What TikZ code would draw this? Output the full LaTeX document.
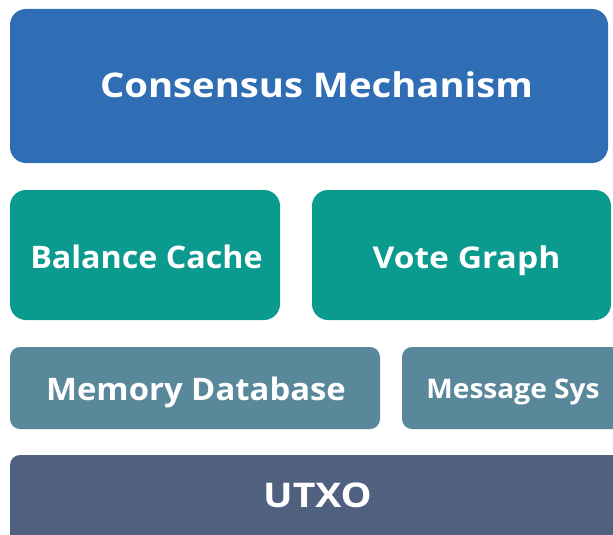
\documentclass[tikz,border=0pt]{standalone}
\usepackage{graphicx}
\usepackage{fontspec}
\setmainfont{Open Sans}
\definecolor{cblue}{HTML}{2F6DB5}
\definecolor{cteal}{HTML}{0A9A8E}
\definecolor{cgray}{HTML}{5A889B}
\definecolor{cslate}{HTML}{50607F}
% white bold label: #1 = font size, #2 = horizontal stretch
\newcommand{\layerlabel}[3]{{\fontsize{#1}{#1}\selectfont\bfseries\scalebox{#2}[1]{#3}}}
\begin{document}
\begin{tikzpicture}[x=1pt,y=-1pt,
  layer/.style={fill=#1, draw=none, rounded corners=16pt},
  lbl/.style={text=white, anchor=base, inner sep=0pt}]
\useasboundingbox (0,0) rectangle (613,535);
\clip (0,0) rectangle (613,535);
% layers of the stack, top to bottom
\fill[layer=cblue]  (10,9)    rectangle (608,163);
\fill[layer=cteal]  (10,190)  rectangle (280,320);
\fill[layer=cteal]  (312,190) rectangle (611,320);
\fill[layer=cgray, rounded corners=10pt]  (10,347)  rectangle (380,429);
\fill[layer=cgray, rounded corners=10pt]  (402,347) rectangle (630,429);
\fill[layer=cslate, rounded corners=10pt] (10,455)  rectangle (630,560);
% labels, placed on their baselines
\node[lbl] (cm) at (316.5,97)  {\layerlabel{34}{1.125}{Consensus Mechanism}};
\node[lbl] (bc) at (146.5,268) {\layerlabel{31}{1.04}{Balance Cache}};
\node[lbl] (vg) at (466.5,268) {\layerlabel{30}{1.12}{Vote Graph}};
\node[lbl] (md) at (196,400)   {\layerlabel{31}{1.06}{Memory Database}};
\node[lbl] (ms) at (513,398)   {\layerlabel{27}{1.04}{Message Sys}};
\node[lbl] (ux) at (317.5,507) {\layerlabel{34}{1.15}{UTXO}};
\end{tikzpicture}
\end{document}
